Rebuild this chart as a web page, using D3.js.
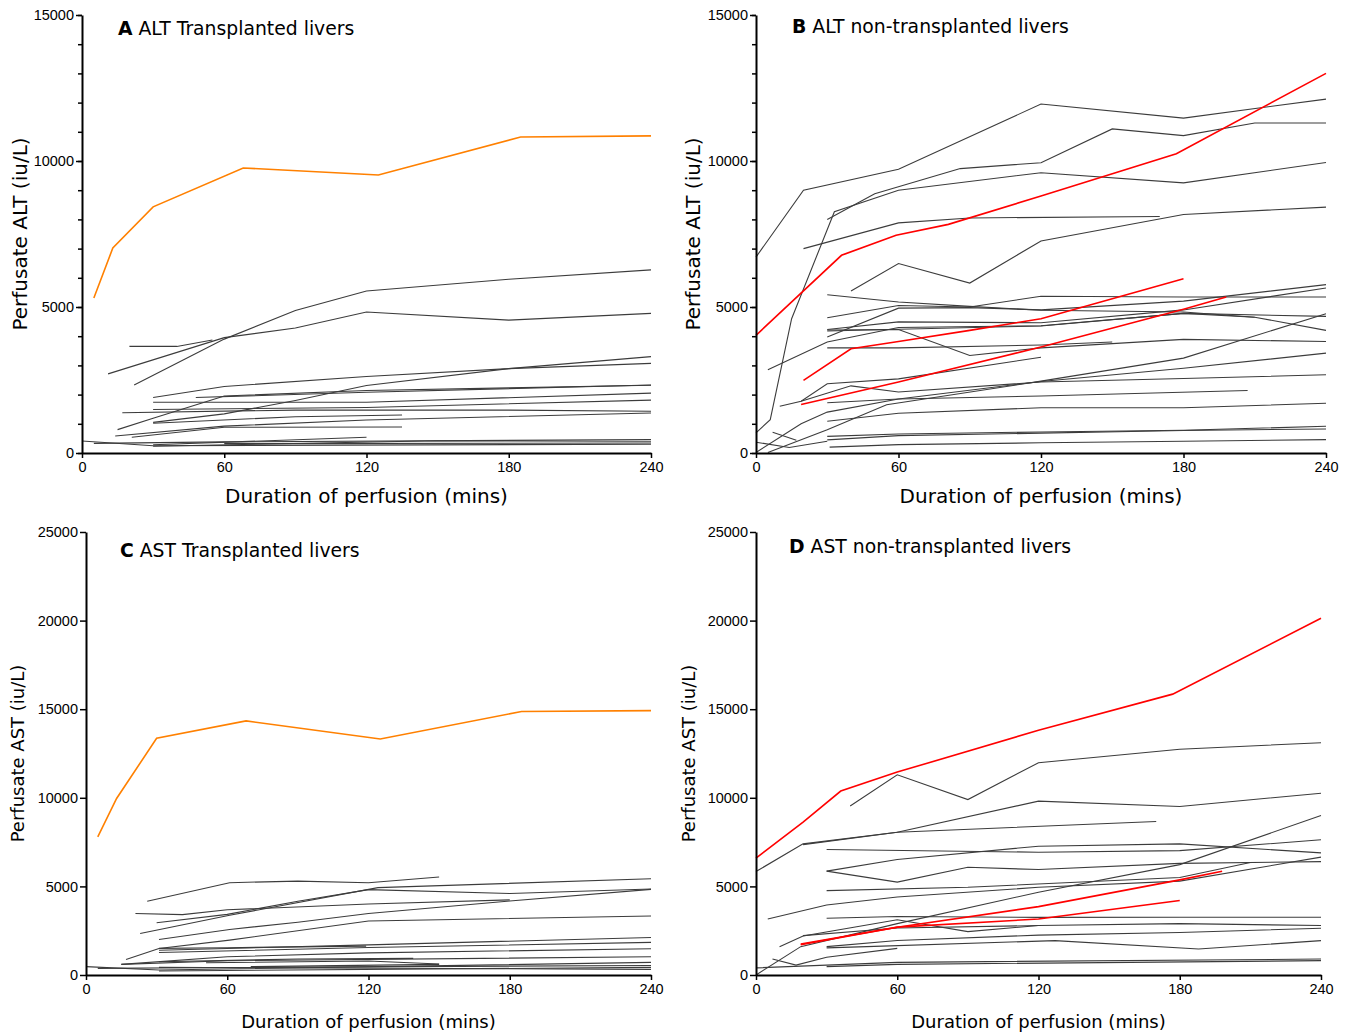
<!DOCTYPE html>
<html>
<head>
<meta charset="utf-8">
<script src="https://cdn.jsdelivr.net/npm/d3@7"></script>
<style>
  body { margin: 0; background: #fff; }
  svg { font-family: "DejaVu Sans", Verdana, sans-serif; }
  .tick text { font-size: 14.5px; fill: #000; }
</style>
</head>
<body>
<div id="chart"></div>
<script>
// tick values
var xTicks = [0, 60, 120, 180, 240];
var altTicks = [0, 5000, 10000, 15000];
var astTicks = [0, 5000, 10000, 15000, 20000, 25000];

// each liver is a list of [minutes, iu/L]
// A: ALT transplanted
var altTxHighlight = [
  [[5, 5310], [13, 7020], [30, 8430], [68, 9760], [125, 9520], [185, 10820], [240, 10860]]
];
var altTxGray = [
  [[22, 2330], [60, 3900], [90, 4880], [120, 5550], [180, 5950], [240, 6270]],
  [[11, 2710], [60, 3950], [90, 4280], [120, 4830], [180, 4550], [240, 4780]],
  [[20, 3650], [40, 3650], [55, 3870]],
  [[30, 1900], [60, 2280], [120, 2620], [180, 2890], [240, 3300]],
  [[30, 1050], [60, 1340], [90, 1800], [120, 2310], [180, 2890], [240, 3070]],
  [[15, 800], [30, 1190], [60, 1950], [120, 2140], [180, 2230], [240, 2320]],
  [[48, 1900], [120, 2080], [240, 2330]],
  [[30, 1740], [120, 1740], [240, 2050]],
  [[30, 1490], [120, 1560], [240, 1810]],
  [[17, 1380], [90, 1470], [180, 1470], [240, 1430]],
  [[21, 540], [60, 880], [135, 890]],
  [[30, 1020], [90, 1240], [135, 1300]],
  [[14, 580], [60, 920], [120, 1130], [240, 1370]],
  [[0, 410], [30, 250], [240, 300]],
  [[30, 280], [120, 540]],
  [[5, 330], [60, 380], [240, 460]],
  [[30, 230], [150, 420], [240, 400]],
  [[60, 320], [240, 340]]
];

// B: ALT non-transplanted
var altNonTxHighlight = [
  [[0, 4030], [36, 6770], [59, 7460], [81, 7830], [120, 8800], [177, 10250], [240, 13000]],
  [[20, 2490], [40, 3570], [60, 3820], [90, 4200], [120, 4600], [180, 5970]],
  [[19, 1660], [60, 2430], [120, 3630], [180, 4920], [198, 5340]]
];
var altNonTxGray = [
  [[0, 6710], [20, 9000], [60, 9720], [120, 11950], [180, 11470], [240, 12120]],
  [[30, 8000], [50, 8880], [86, 9740], [120, 9940], [150, 11100], [180, 10870], [210, 11300], [240, 11300]],
  [[0, 690], [6, 1140], [15, 4600], [33, 8260], [60, 9000], [120, 9600], [180, 9250], [240, 9950]],
  [[20, 7000], [60, 7880], [90, 8050], [170, 8100]],
  [[40, 5550], [60, 6490], [90, 5820], [120, 7260], [180, 8170], [240, 8420]],
  [[30, 5420], [60, 5170], [90, 5020], [120, 4890], [180, 4830], [210, 4650], [240, 4200]],
  [[30, 4630], [60, 5050], [90, 5000], [120, 5370], [180, 5340], [240, 5340]],
  [[30, 3970], [60, 4960], [90, 4980], [120, 4900], [180, 5200], [240, 5765]],
  [[30, 4230], [60, 4490], [120, 4460], [180, 4900], [240, 5650]],
  [[30, 4180], [60, 4240], [120, 4350], [180, 4780], [240, 4680]],
  [[30, 4210], [60, 4230], [90, 3340], [120, 3600], [180, 3890], [240, 3820]],
  [[30, 3600], [60, 3600], [120, 3700], [150, 3800]],
  [[5, 2850], [30, 3800], [60, 4300], [120, 4360], [180, 4780], [210, 4650]],
  [[10, 1600], [19, 1770], [30, 2370], [60, 2540], [120, 3280]],
  [[19, 1770], [40, 2300], [60, 2090], [120, 2430], [180, 2550], [240, 2680]],
  [[0, 20], [19, 1000], [30, 1400], [60, 1850], [120, 2450], [180, 2900], [240, 3420]],
  [[5, 20], [30, 800], [55, 1650], [120, 2460], [180, 3250], [240, 4770]],
  [[30, 1720], [60, 1850], [120, 1950], [207, 2140]],
  [[30, 1090], [60, 1360], [120, 1550], [180, 1550], [240, 1705]],
  [[30, 570], [60, 650], [120, 720], [180, 780], [240, 915]],
  [[30, 450], [60, 595], [120, 680], [180, 770], [240, 824]],
  [[31, 200], [60, 286], [120, 350], [180, 400], [240, 458]],
  [[0, 370], [14, 190], [30, 400]],
  [[7, 710], [17, 440]]
];

// C: AST transplanted
var astTxHighlight = [
  [[5, 7790], [13, 9960], [30, 13360], [68, 14340], [125, 13320], [185, 14870], [240, 14920]]
];
var astTxGray = [
  [[26, 4160], [61, 5210], [90, 5300], [120, 5210], [150, 5530]],
  [[21, 3470], [41, 3410], [60, 3680], [120, 4010], [180, 4240]],
  [[30, 2950], [60, 3420], [90, 4160], [120, 4820], [180, 4600], [240, 4850]],
  [[23, 2340], [61, 3370], [124, 4930], [240, 5430]],
  [[31, 2000], [61, 2570], [90, 2980], [120, 3470], [180, 4180], [240, 4830]],
  [[17, 880], [31, 1500], [61, 1970], [120, 3050], [240, 3330]],
  [[31, 1500], [60, 1540], [119, 1630]],
  [[31, 1400], [120, 1700], [240, 2120]],
  [[31, 1270], [120, 1550], [240, 1840]],
  [[15, 600], [60, 1030], [120, 1250], [240, 1480]],
  [[31, 750], [90, 900], [139, 940]],
  [[15, 600], [60, 800], [240, 1030]],
  [[51, 690], [120, 790], [150, 620]],
  [[0, 470], [31, 280], [240, 710]],
  [[5, 375], [60, 420], [240, 540]],
  [[31, 225], [240, 430]],
  [[70, 470], [150, 600]],
  [[31, 430], [240, 320]]
];

// D: AST non-transplanted
var astNonTxHighlight = [
  [[0, 6600], [20, 8630], [36, 10380], [60, 11450], [120, 13810], [177, 15850], [240, 20130]],
  [[19, 1750], [60, 2690], [120, 3860], [180, 5370], [198, 5860]],
  [[19, 1710], [60, 2700], [120, 3160], [180, 4200]]
];
var astNonTxGray = [
  [[40, 9540], [60, 11300], [90, 9900], [120, 11980], [180, 12740], [240, 13110]],
  [[20, 7360], [60, 8060], [120, 9810], [180, 9510], [240, 10260]],
  [[0, 5840], [20, 7400], [60, 8060], [170, 8660]],
  [[30, 7080], [120, 6930], [180, 7020], [240, 7630]],
  [[30, 5860], [60, 6520], [120, 7270], [180, 7400], [240, 6890]],
  [[30, 5860], [60, 5240], [90, 6080], [120, 5950], [180, 6300], [240, 6400]],
  [[5, 3160], [30, 3950], [60, 4400], [120, 4950], [180, 5300], [240, 6650]],
  [[30, 4760], [90, 4950], [180, 5500], [210, 6350]],
  [[0, 0], [19, 1600], [60, 2900], [120, 4670], [180, 6230], [240, 9000]],
  [[30, 3200], [60, 3300], [120, 3250], [180, 3260], [240, 3260]],
  [[20, 2220], [60, 2650], [120, 2790]],
  [[10, 1600], [20, 2200], [60, 3120], [90, 2450], [120, 2790], [180, 2900], [240, 2790]],
  [[30, 1600], [60, 1950], [120, 2250], [180, 2400], [240, 2640]],
  [[30, 1530], [47, 1600], [127, 1940], [188, 1470], [240, 1940]],
  [[7, 900], [17, 560], [30, 1000], [60, 1500]],
  [[0, 400], [60, 715], [240, 900]],
  [[30, 470], [60, 600], [240, 810]]
];

var svg = d3.select("#chart").append("svg")
  .attr("width", 1349)
  .attr("height", 1036);

var panels = [
  { letter: "A", title: " ALT Transplanted livers", ylabel: "Perfusate ALT (iu/L)",
    gray: altTxGray, hi: altTxHighlight, hiColor: "#ff8000",
    left: 82, right: 651, top: 15, bottom: 453, ymax: 15000, ticks: altTicks, minor: 1000,
    titleX: 118, titleY: 35, ylabX: 27, xlabY: 503, labSize: 20 },
  { letter: "B", title: " ALT non-transplanted livers", ylabel: "Perfusate ALT (iu/L)",
    gray: altNonTxGray, hi: altNonTxHighlight, hiColor: "#ff0000",
    left: 756, right: 1326, top: 15, bottom: 453, ymax: 15000, ticks: altTicks, minor: 1000,
    titleX: 792, titleY: 33, ylabX: 700, xlabY: 503, labSize: 20 },
  { letter: "C", title: " AST Transplanted livers", ylabel: "Perfusate AST (iu/L)",
    gray: astTxGray, hi: astTxHighlight, hiColor: "#ff8000",
    left: 86, right: 651, top: 532, bottom: 975, ymax: 25000, ticks: astTicks, minor: null,
    titleX: 120, titleY: 557, ylabX: 24, xlabY: 1028, labSize: 18 },
  { letter: "D", title: " AST non-transplanted livers", ylabel: "Perfusate AST (iu/L)",
    gray: astNonTxGray, hi: astNonTxHighlight, hiColor: "#ff0000",
    left: 756, right: 1321, top: 532, bottom: 975, ymax: 25000, ticks: astTicks, minor: null,
    titleX: 789, titleY: 553, ylabX: 695, xlabY: 1028, labSize: 18 }
];

panels.forEach(function(p) {
  var x = d3.scaleLinear().domain([0, 240]).range([p.left, p.right]);
  var y = d3.scaleLinear().domain([0, p.ymax]).range([p.bottom, p.top]);

  var line = d3.line()
    .x(d => x(d[0]))
    .y(d => y(d[1]));

  var g = svg.append("g");

  // individual livers
  g.selectAll(null).data(p.gray).enter().append("path")
    .attr("d", line)
    .attr("fill", "none")
    .attr("stroke", "#3c3c3c")
    .attr("stroke-width", 1.1);

  g.selectAll(null).data(p.hi).enter().append("path")
    .attr("d", line)
    .attr("fill", "none")
    .attr("stroke", p.hiColor)
    .attr("stroke-width", 1.6);

  // minor ticks on y
  if (p.minor) {
    g.append("g")
      .attr("transform", `translate(${p.left},0)`)
      .call(d3.axisLeft(y).tickValues(d3.range(0, p.ymax + 1, p.minor)).tickSize(4).tickFormat(""))
      .call(a => a.select(".domain").remove())
      .selectAll("line").attr("stroke-width", 1.5);
  }

  var yAxis = g.append("g")
    .attr("transform", `translate(${p.left},0)`)
    .call(d3.axisLeft(y).tickValues(p.ticks).tickSize(6).tickSizeOuter(0).tickPadding(2).tickFormat(d3.format("d")));
  yAxis.select(".domain").attr("stroke-width", 2);
  yAxis.selectAll(".tick line").attr("stroke-width", 1.5);
  yAxis.selectAll(".tick text").attr("font-family", null).attr("font-size", null);

  var xAxis = g.append("g")
    .attr("transform", `translate(0,${p.bottom})`)
    .call(d3.axisBottom(x).tickValues(xTicks).tickSize(5).tickSizeOuter(0).tickPadding(4));
  xAxis.select(".domain").attr("stroke-width", 2);
  xAxis.selectAll(".tick line").attr("stroke-width", 1.5);
  xAxis.selectAll(".tick text").attr("font-family", null).attr("font-size", null);

  // panel title
  var t = g.append("text")
    .attr("x", p.titleX)
    .attr("y", p.titleY)
    .attr("font-size", 18.8);
  t.append("tspan").attr("font-weight", "bold").text(p.letter);
  t.append("tspan").text(p.title);

  // axis labels
  g.append("text")
    .attr("transform", `translate(${p.ylabX},${(p.top + p.bottom) / 2}) rotate(-90)`)
    .attr("text-anchor", "middle")
    .attr("font-size", p.labSize)
    .text(p.ylabel);

  g.append("text")
    .attr("x", (p.left + p.right) / 2)
    .attr("y", p.xlabY)
    .attr("text-anchor", "middle")
    .attr("font-size", p.labSize)
    .text("Duration of perfusion (mins)");
});
</script>
</body>
</html>
